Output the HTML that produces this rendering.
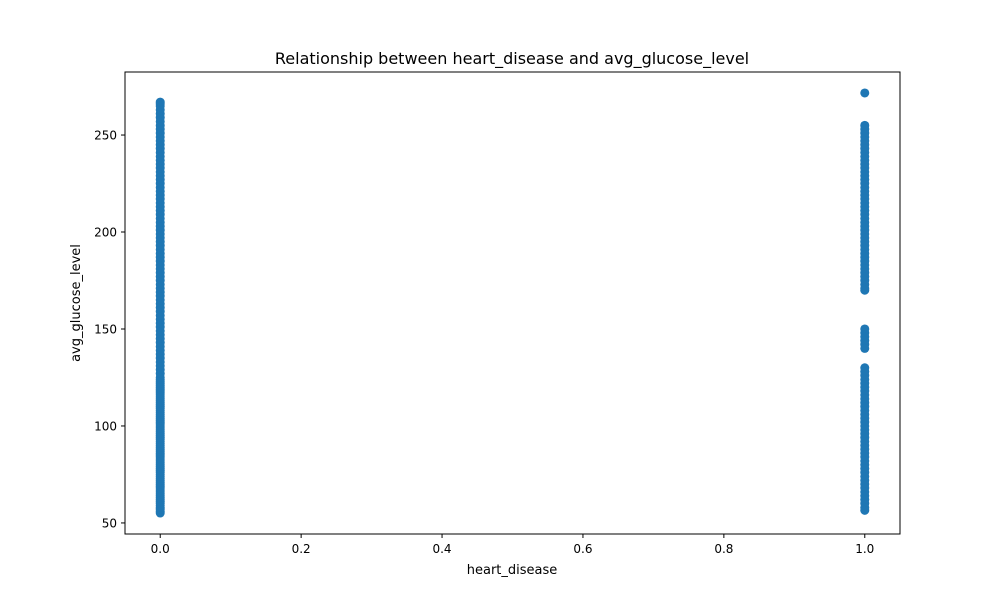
<!DOCTYPE html>
<html><head><meta charset="utf-8"><style>
body{margin:0;background:#fff;font-family:"Liberation Sans","DejaVu Sans",sans-serif}
svg text{font-family:"DejaVu Sans","Liberation Sans",sans-serif;fill:#000}
</style></head><body>
<svg id="chart" width="1000" height="600">
<rect width="1000" height="600" fill="#fff"/>
<text x="512" y="64" text-anchor="middle" font-size="16">Relationship between heart_disease and avg_glucose_level</text>
<g id="points"></g>
<rect x="125" y="72" width="775" height="462" fill="none" stroke="#000" stroke-width="1"/>
<g id="axes"></g>
<text x="512" y="574" text-anchor="middle" font-size="13">heart_disease</text>
<text x="80" y="303" text-anchor="middle" font-size="13" transform="rotate(-90 80 303)">avg_glucose_level</text>
</svg>
<script>
const xTicks=[0.0,0.2,0.4,0.6,0.8,1.0];
const xTickLabels=["0.0","0.2","0.4","0.6","0.8","1.0"];
const yTicks=[50,100,150,200,250];
const group0=[55.1,56,57,58,59,60,61,62,63,64,65,66,67,68,69,70,71,72,73,74,75,76,77,78,79,80,81,82,83,84,85,86,87,88,89,90,91,92,93,94,95,96,97,98,99,100,101,102,103,104,105,106,107,108,109,110,111,112,113,114,115,116,117,118,119,120,121,122,123,124,125,127,129,131,133,135,137,139,141,143,145,147,149,151,153,155,157,159,161,163,165,167,169,171,173,175,177,179,181,183,185,187,189,191,193,195,197,199,201,203,205,207,209,211,213,215,217,219,221,223,225,227,229,231,233,235,237,239,241,243,245,247,249,251,253,255,257,259,261,263,265,266,267];
const group1=[271.7,255,253,251,249,247,245,243,241,239,237,235,233,231,229,227,225,223,221,219,217,215,213,211,209,207,205,203,201,199,197,195,193,191,189,187,185,183,181,179,177,175,173,171,170,150,148,146,144,142,140,130,128,126,124,122,120,118,116,114,112,110,108,106,104,102,100,98,96,94,92,90,88,86,84,82,80,78,76,74,72,70,68,66,64,62,60,58,56.5];
const xs=v=>125+(v+0.05)/1.1*775;
const ys=v=>534-(v-44.3)/(282.5-44.3)*462;
const NS="http://www.w3.org/2000/svg";
const pts=document.getElementById('points');
function dot(x,v){const c=document.createElementNS(NS,'circle');
c.setAttribute('cx',xs(x));c.setAttribute('cy',ys(v));c.setAttribute('r',4.5);c.setAttribute('fill','#1f77b4');


pts.appendChild(c);}
group0.forEach(v=>dot(0,v));
group1.forEach(v=>dot(1,v));
const ax=document.getElementById('axes');
xTicks.forEach((t,i)=>{const x=xs(t);
const l=document.createElementNS(NS,'line');l.setAttribute('x1',x);l.setAttribute('x2',x);l.setAttribute('y1',534);l.setAttribute('y2',538);l.setAttribute('stroke','#000');


ax.appendChild(l);
const tx=document.createElementNS(NS,'text');tx.setAttribute('x',x);tx.setAttribute('y',553);tx.setAttribute('text-anchor','middle');tx.setAttribute('font-size','12');tx.textContent=xTickLabels[i];


ax.appendChild(tx);});
yTicks.forEach(t=>{const y=ys(t);
const l=document.createElementNS(NS,'line');l.setAttribute('x1',121);l.setAttribute('x2',125);l.setAttribute('y1',y);l.setAttribute('y2',y);l.setAttribute('stroke','#000');


ax.appendChild(l);
const tx=document.createElementNS(NS,'text');tx.setAttribute('x',117);tx.setAttribute('y',y+4.5);tx.setAttribute('text-anchor','end');tx.setAttribute('font-size','12');tx.textContent=t;


ax.appendChild(tx);});
</script>
</body></html>
